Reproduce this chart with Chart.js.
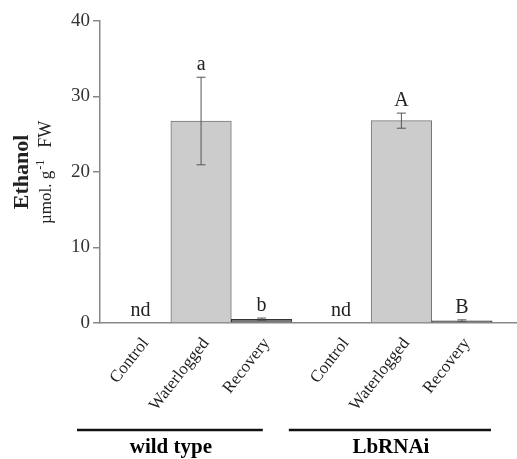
<!DOCTYPE html>
<html>
<head>
<meta charset="utf-8">
<script src="https://cdn.jsdelivr.net/npm/chart.js@4"></script>
<style>
  html, body { margin: 0; padding: 0; background: #fff; }
</style>
</head>
<body>
<canvas id="ethanolChart" width="517" height="459"></canvas>
<script>
const groups = ["wild type", "LbRNAi"];
const treatments = ["Control", "Waterlogged", "Recovery"];
const ethanol = [0, 26.75, 0.5, 0, 26.8, 0.3];
const ethanolErr = [0, 5.8, 0.15, 0, 1.0, 0.12];
const letters = ["nd", "a", "b", "nd", "A", "B"];
const yTicks = [0, 10, 20, 30, 40];

// bars of a group touch; a small gap separates the two genotypes
const groupGap = 0.31;
const xPos = ethanol.map((v, i) => i + Math.floor(i / 3) * groupGap);
const xLabels = ethanol.map((v, i) => treatments[i % 3]);
const groupSpans = [[-1.05, 2.02], [2.45, 5.79]];

const serif = "'Liberation Serif', 'DejaVu Serif', serif";
const ink = "#222";

const overlay = {
  id: "overlay",
  afterDatasetsDraw(chart) {
    const ctx = chart.ctx;
    const y = chart.scales.y;
    const bars = chart.getDatasetMeta(0).data;
    ctx.save();
    bars.forEach((bar, i) => {
      const top = y.getPixelForValue(ethanol[i] + ethanolErr[i]);
      if (ethanolErr[i] > 0) {
        const bot = y.getPixelForValue(ethanol[i] - ethanolErr[i]);
        ctx.strokeStyle = "#555";
        ctx.lineWidth = 1;
        ctx.beginPath();
        ctx.moveTo(bar.x, top); ctx.lineTo(bar.x, bot);
        ctx.moveTo(bar.x - 4.5, top); ctx.lineTo(bar.x + 4.5, top);
        ctx.moveTo(bar.x - 4.5, bot); ctx.lineTo(bar.x + 4.5, bot);
        ctx.stroke();
      }
      ctx.fillStyle = ink;
      ctx.font = "20px " + serif;
      ctx.textAlign = "center";
      ctx.textBaseline = "alphabetic";
      ctx.fillText(letters[i], bar.x, top - 7);
    });
    ctx.restore();
  },
  afterDraw(chart) {
    const ctx = chart.ctx;
    const x = chart.scales.x;
    ctx.save();
    ctx.fillStyle = "#000";
    ctx.textAlign = "center";
    ctx.textBaseline = "alphabetic";
    groupSpans.forEach((span, g) => {
      const a = x.getPixelForValue(span[0]);
      const b = x.getPixelForValue(span[1]);
      ctx.strokeStyle = "#111";
      ctx.lineWidth = 2.5;
      ctx.beginPath();
      ctx.moveTo(a, 430); ctx.lineTo(b, 430);
      ctx.stroke();
      ctx.font = "bold 21px " + serif;
      ctx.fillText(groups[g], (a + b) / 2 + 1, 453);
    });

    // y axis title
    ctx.fillStyle = ink;
    ctx.save();
    ctx.translate(28, 172);
    ctx.rotate(-Math.PI / 2);
    ctx.font = "bold 22px " + serif;
    ctx.fillText("Ethanol", 0, 0);
    ctx.restore();

    ctx.save();
    ctx.translate(51, 224);
    ctx.rotate(-Math.PI / 2);
    ctx.textAlign = "left";
    ctx.font = "17px " + serif;
    const p1 = "\u00b5mol. g";
    const w1 = ctx.measureText(p1).width;
    ctx.fillText(p1, 0, 0);
    ctx.font = "12px " + serif;
    const sup = "-1";
    const ws = ctx.measureText(sup).width;
    ctx.fillText(sup, w1 + 1, -7);
    ctx.font = "18px " + serif;
    ctx.fillText("FW", w1 + 1 + ws + 12, 0);
    ctx.restore();
    ctx.restore();
  }
};

new Chart(document.getElementById("ethanolChart"), {
  type: "bar",
  data: {
    datasets: [{
      data: ethanol.map((v, i) => ({ x: xPos[i], y: v })),
      backgroundColor: c => (c.raw && c.raw.y < 1 ? "#777" : "#cccccc"),
      borderColor: c => (c.raw && c.raw.y < 1 ? "#333" : "#777"),
      borderWidth: 1,
      borderSkipped: "bottom",
      barPercentage: 1,
      categoryPercentage: 1
    }]
  },
  options: {
    responsive: false,
    animation: false,
    layout: { padding: { top: 21, left: 0, right: 0, bottom: 0 } },
    plugins: { legend: { display: false }, tooltip: { enabled: false } },
    scales: {
      x: {
        type: "linear",
        min: -0.67,
        max: 6.22,
        offset: false,
        afterBuildTicks: s => { s.ticks = xPos.map(v => ({ value: v })); },
        afterFit: s => { s.height = 136; },
        grid: { display: false, offset: false },
        border: { color: "#888", width: 1.5 },
        ticks: {
          autoSkip: false,
          minRotation: 52,
          maxRotation: 52,
          padding: 3,
          labelOffset: 5,
          color: ink,
          font: { family: serif, size: 17 },
          callback: v => xLabels[xPos.indexOf(v)]
        }
      },
      y: {
        min: 0,
        max: 40,
        afterBuildTicks: s => { s.ticks = yTicks.map(v => ({ value: v })); },
        afterFit: s => { s.width = 100; },
        grid: { drawOnChartArea: false, tickLength: 7, color: "#888", lineWidth: 1.5 },
        border: { color: "#888", width: 1.5 },
        ticks: {
          padding: 3,
          color: "#333",
          font: { family: serif, size: 19 }
        }
      }
    }
  },
  plugins: [overlay]
});
</script>
</body>
</html>
